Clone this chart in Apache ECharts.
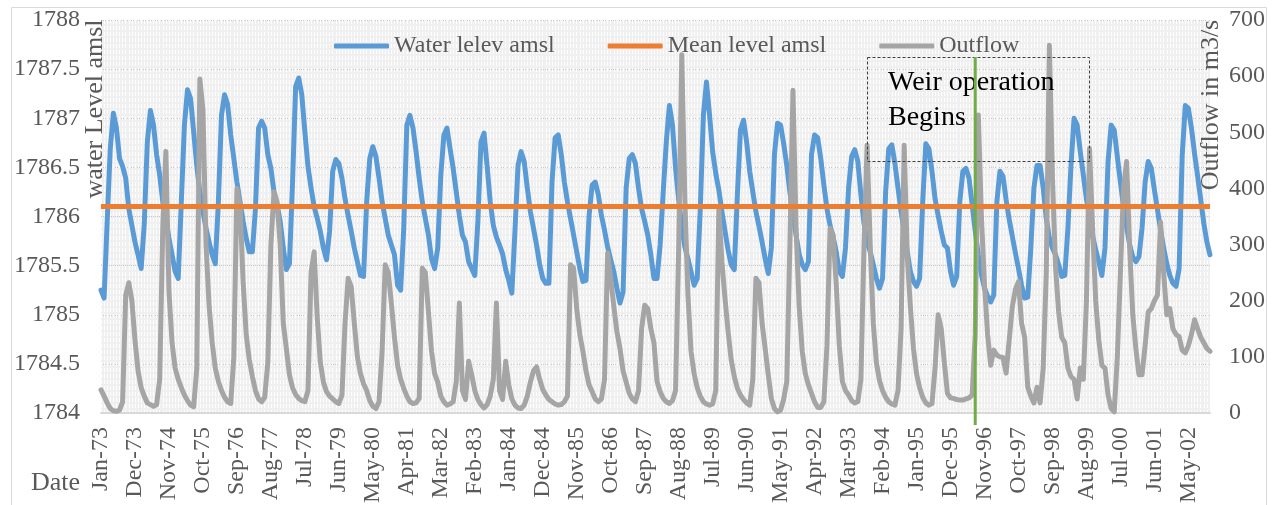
<!DOCTYPE html>
<html>
<head>
<meta charset="utf-8">
<script src="https://cdn.jsdelivr.net/npm/echarts@6/dist/echarts.min.js"></script>
<style>
html,body{margin:0;padding:0;background:#fff;}
#chart{width:1272px;height:505px;}
</style>
</head>
<body>
<div id="chart"></div>
<script>
// ---- data ----
const monthNames = ['Jan','Feb','Mar','Apr','May','Jun','Jul','Aug','Sep','Oct','Nov','Dec'];
const startYear = 1973;
const monthCount = 360;
const categories = [];
for (let k = 0; k < monthCount; k++) {
  const yr = (startYear + Math.floor(k / 12)) % 100;
  categories.push(monthNames[k % 12] + '-' + String(yr).padStart(2, '0'));
}

const waterLevel = [
1785.25,1785.17,1785.95,1786.69,1787.05,1786.90,1786.59,1786.51,1786.39,1786.08,1785.91,1785.74,
1785.61,1785.47,1785.92,1786.76,1787.08,1786.93,1786.63,1786.42,1786.15,1785.98,1785.78,1785.61,
1785.44,1785.37,1786.15,1786.93,1787.29,1787.20,1786.86,1786.52,1786.25,1786.05,1785.88,1785.74,
1785.61,1785.52,1786.15,1787.03,1787.24,1787.14,1786.83,1786.59,1786.35,1786.15,1785.95,1785.78,
1785.64,1785.64,1786.08,1786.90,1786.97,1786.90,1786.63,1786.49,1786.25,1786.12,1785.95,1785.68,
1785.46,1785.52,1786.34,1787.32,1787.41,1787.24,1786.86,1786.51,1786.29,1786.10,1785.98,1785.85,
1785.68,1785.56,1785.85,1786.46,1786.58,1786.54,1786.39,1786.18,1786.01,1785.85,1785.68,1785.54,
1785.40,1785.39,1786.15,1786.59,1786.71,1786.61,1786.39,1786.15,1785.98,1785.81,1785.71,1785.61,
1785.30,1785.25,1785.88,1786.93,1787.03,1786.90,1786.66,1786.39,1786.15,1785.98,1785.81,1785.57,
1785.47,1785.68,1786.42,1786.83,1786.90,1786.69,1786.49,1786.25,1786.01,1785.81,1785.74,1785.54,
1785.47,1785.40,1785.95,1786.76,1786.85,1786.51,1786.15,1785.91,1785.79,1785.71,1785.62,1785.46,
1785.35,1785.22,1785.85,1786.52,1786.66,1786.56,1786.29,1786.05,1785.88,1785.71,1785.51,1785.37,
1785.32,1785.32,1786.35,1786.80,1786.83,1786.63,1786.35,1786.15,1785.98,1785.81,1785.64,1785.47,
1785.34,1785.35,1786.01,1786.32,1786.35,1786.22,1786.01,1785.86,1785.69,1785.56,1785.44,1785.27,
1785.12,1785.23,1786.29,1786.59,1786.63,1786.54,1786.29,1786.08,1785.95,1785.81,1785.61,1785.37,
1785.37,1785.71,1786.25,1786.76,1787.13,1786.93,1786.49,1786.17,1785.90,1785.69,1785.57,1785.44,
1785.30,1785.37,1786.08,1787.03,1787.37,1787.03,1786.66,1786.44,1786.27,1786.05,1785.85,1785.66,
1785.51,1785.46,1786.22,1786.88,1786.98,1786.76,1786.46,1786.25,1786.05,1785.90,1785.74,1785.57,
1785.42,1785.68,1786.63,1786.95,1786.93,1786.74,1786.52,1786.25,1786.01,1785.81,1785.62,1785.51,
1785.46,1785.54,1786.63,1786.83,1786.80,1786.59,1786.32,1786.08,1785.91,1785.79,1785.64,1785.44,
1785.39,1785.68,1786.29,1786.61,1786.68,1786.56,1786.22,1785.93,1785.74,1785.64,1785.51,1785.37,
1785.27,1785.37,1786.25,1786.69,1786.73,1786.54,1786.29,1786.05,1785.85,1785.64,1785.44,1785.34,
1785.29,1785.37,1786.15,1786.74,1786.69,1786.46,1786.18,1786.01,1785.85,1785.71,1785.68,1785.44,
1785.30,1785.39,1786.15,1786.46,1786.49,1786.39,1786.12,1785.85,1785.61,1785.41,1785.27,1785.19,
1785.13,1785.20,1786.15,1786.46,1786.41,1786.17,1785.97,1785.80,1785.63,1785.47,1785.30,1785.17,
1785.18,1785.68,1786.29,1786.52,1786.52,1786.29,1785.98,1785.78,1785.68,1785.61,1785.51,1785.39,
1785.40,1785.88,1786.52,1787.00,1786.93,1786.66,1786.42,1786.18,1786.00,1785.80,1785.66,1785.54,
1785.40,1785.68,1786.56,1786.93,1786.88,1786.61,1786.35,1786.10,1785.90,1785.71,1785.59,1785.54,
1785.59,1785.88,1786.35,1786.56,1786.49,1786.27,1786.07,1785.86,1785.68,1785.52,1785.40,1785.32,
1785.29,1785.47,1786.62,1787.13,1787.10,1786.90,1786.64,1786.41,1786.17,1785.93,1785.74,1785.61
];

const outflow = [
41,30,18,8,4,3,5,20,210,232,200,130,
75,45,30,18,15,12,15,60,330,466,216,125,
80,60,45,32,22,14,11,80,595,540,300,190,
125,80,56,40,28,20,17,100,400,370,234,140,
95,65,40,25,20,28,90,300,394,376,300,160,
115,68,45,33,26,22,20,40,250,287,170,90,
55,38,30,25,20,17,32,160,240,225,160,100,
70,52,40,22,12,8,20,110,264,250,195,135,
85,60,44,30,20,17,18,26,258,250,180,110,
70,55,30,20,14,16,20,56,196,40,24,92,
68,40,24,15,9,15,30,60,196,40,24,92,
50,25,14,9,8,14,30,55,75,82,60,42,
32,24,20,16,14,15,20,30,264,258,185,140,
110,75,50,38,25,20,25,60,285,240,190,145,
115,75,55,35,25,20,40,150,192,186,150,125,
56,38,26,20,17,22,40,293,638,380,210,110,
70,45,30,20,16,14,16,40,362,270,204,145,
95,65,44,32,24,18,14,60,240,232,160,115,
68,26,8,2,5,25,56,300,575,330,190,110,
70,50,35,20,10,10,20,120,329,317,230,120,
56,40,32,22,18,20,60,300,477,300,160,90,
58,40,28,20,16,14,40,150,477,280,190,115,
70,45,28,18,14,17,80,175,150,90,35,27,
26,24,23,23,25,27,32,140,531,350,230,140,
85,112,103,100,99,71,130,189,220,234,160,135,
46,30,18,46,18,80,250,655,420,260,180,135,
125,80,65,60,25,80,60,200,471,330,200,130,
85,80,32,8,2,100,250,400,448,293,175,115,
68,68,120,180,186,200,210,340,250,175,186,150,
140,136,112,107,120,140,166,150,135,125,115,110
];

const meanLevel = 1786.1;
const weirStart = 'Aug-96';
const seriesNames = ['Water lelev amsl', 'Mean level amsl', 'Outflow'];
const leftTicks = {min: 1784, max: 1788, step: 0.5};
const rightTicks = {min: 0, max: 700, step: 100};

// ---- chart ----
const SERIF = "'Liberation Serif','Times New Roman',serif";
const TXT = '#595959';
const LW = 5;
const chart = echarts.init(document.getElementById('chart'), null, {renderer: 'canvas'});

const option = {
  animation: false,
  backgroundColor: '#ffffff',
  grid: {
    left: 101, top: 20, width: 1109, height: 393,
    show: true, backgroundColor: '#f0f0f0', borderWidth: 0,
    containLabel: false, outerBoundsMode: 'none'
  },
  legend: {
    left: 329, top: 29,
    itemWidth: 55, itemHeight: 5, itemGap: 53,
    icon: 'roundRect',
    textStyle: {fontFamily: SERIF, fontSize: 24, color: TXT},
    data: seriesNames
  },
  xAxis: {
    type: 'category',
    data: categories,
    boundaryGap: false,
    axisLine: {show: true, lineStyle: {color: '#d9d9d9', width: 2}},
    axisTick: {show: false},
    axisLabel: {
      interval: 10, rotate: 90, margin: 14,
      fontFamily: SERIF, fontSize: 24, color: TXT
    },
    splitLine: {show: true, interval: 0, lineStyle: {color: '#ffffff', width: 1, type: [4, 2]}}
  },
  yAxis: [
    {
      type: 'value', min: leftTicks.min, max: leftTicks.max, interval: leftTicks.step,
      axisLine: {show: false}, axisTick: {show: false},
      axisLabel: {margin: 21, fontFamily: SERIF, fontSize: 24, color: TXT, formatter: v => String(v)},
      splitLine: {show: true, lineStyle: {color: '#c8c8c8', width: 1, type: 'dotted'}}
    },
    {
      type: 'value', min: rightTicks.min, max: rightTicks.max, interval: rightTicks.step,
      axisLine: {show: false}, axisTick: {show: false},
      axisLabel: {margin: 19, fontFamily: SERIF, fontSize: 24, color: TXT, formatter: v => String(v)},
      splitLine: {show: false}
    }
  ],
  series: [
    {
      name: seriesNames[0], type: 'line', yAxisIndex: 0,
      data: waterLevel, showSymbol: false, symbol: 'none',
      color: '#5b9bd5',
      lineStyle: {color: '#5b9bd5', width: LW, cap: 'round', join: 'round'},
      emphasis: {disabled: true}, z: 2
    },
    {
      name: seriesNames[1], type: 'line', yAxisIndex: 0,
      data: [], showSymbol: false, symbol: 'none',
      color: '#ed7d31',
      lineStyle: {color: '#ed7d31', width: LW},
      markLine: {
        silent: true, symbol: 'none', animation: false,
        label: {show: false},
        lineStyle: {color: '#ed7d31', width: LW, type: 'solid'},
        emphasis: {disabled: true},
        data: [{yAxis: meanLevel}]
      },
      emphasis: {disabled: true}, z: 3
    },
    {
      name: seriesNames[2], type: 'line', yAxisIndex: 1,
      data: outflow, showSymbol: false, symbol: 'none',
      color: '#a5a5a5',
      lineStyle: {color: '#a5a5a5', width: LW, cap: 'round', join: 'round'},
      emphasis: {disabled: true}, z: 4
    }
  ]
};
chart.setOption(option);

const wx = chart.convertToPixel({xAxisIndex: 0}, weirStart);
chart.setOption({
  graphic: [
    {type: 'rect', silent: true, z: 0,
     shape: {x: 11.5, y: 7.5, width: 1255, height: 520},
     style: {fill: 'none', stroke: '#d9d9d9', lineWidth: 1}},
    {type: 'text', silent: true, z: 50, x: 95, y: 109, rotation: Math.PI / 2,
     style: {text: 'water Level amsl', fontFamily: SERIF, fontSize: 26, fill: TXT, align: 'center', verticalAlign: 'middle'}},
    {type: 'text', silent: true, z: 50, x: 1211, y: 105, rotation: Math.PI / 2,
     style: {text: 'Outflow in m3/s', fontFamily: SERIF, fontSize: 26, fill: TXT, align: 'center', verticalAlign: 'middle'}},
    {type: 'text', silent: true, z: 50, x: 31, y: 483,
     style: {text: 'Date', fontFamily: SERIF, fontSize: 26, fill: TXT, align: 'left', verticalAlign: 'middle'}},
    {type: 'rect', silent: true, z: 60,
     shape: {x: 867.5, y: 57.5, width: 222, height: 104},
     style: {fill: 'none', stroke: '#404040', lineWidth: 1, lineDash: [3, 2]}},
    {type: 'text', silent: true, z: 61, x: 888, y: 65,
     style: {text: 'Weir operation\nBegins', fontFamily: SERIF, fontSize: 28, lineHeight: 35, fill: '#000000', align: 'left', verticalAlign: 'top'}},
    {type: 'line', silent: true, z: 70,
     shape: {x1: wx, y1: 57, x2: wx, y2: 425},
     style: {stroke: '#70ad47', lineWidth: 3}}
  ]
});
</script>
</body>
</html>
